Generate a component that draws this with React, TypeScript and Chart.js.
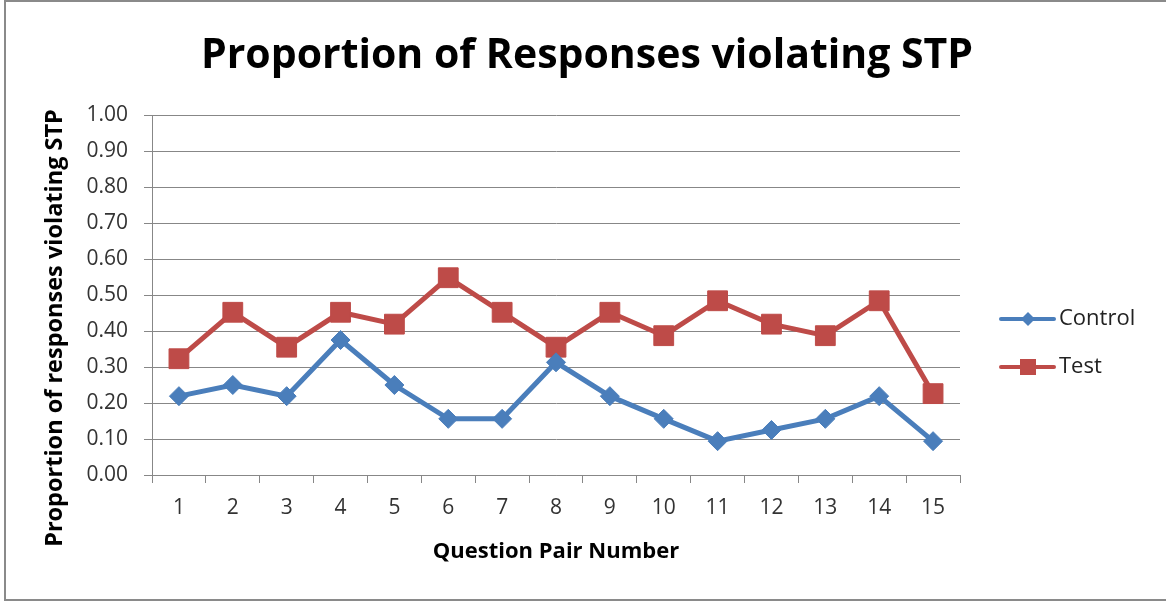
import React, { useEffect, useRef } from 'react';
import { Chart, registerables } from 'chart.js';

Chart.register(...registerables);

const categories = ['1', '2', '3', '4', '5', '6', '7', '8', '9', '10', '11', '12', '13', '14', '15'];
const controlValues = [0.219, 0.25, 0.219, 0.375, 0.25, 0.156, 0.156, 0.313, 0.219, 0.156, 0.094, 0.125, 0.156, 0.219, 0.094];
const testValues = [0.323, 0.452, 0.355, 0.452, 0.419, 0.548, 0.452, 0.355, 0.452, 0.387, 0.484, 0.419, 0.387, 0.484, 0.226];
const seriesNames = ['Control', 'Test'];
const chartTitle = 'Proportion of Responses violating STP';
const yAxisTitle = 'Proportion of responses violating STP';
const xAxisTitle = 'Question Pair Number';

const FONT = '"Open Sans", "Noto Sans", sans-serif';
const BLUE = '#4a7ebb';
const RED = '#be4b48';

const decorPlugin = {
  id: 'decor',
  beforeDraw(chart: any) {
    const ctx = chart.ctx;
    ctx.save();
    ctx.fillStyle = '#ffffff';
    ctx.fillRect(0, 0, chart.width, chart.height);
    ctx.strokeStyle = '#8a8a8a';
    ctx.lineWidth = 2;
    ctx.beginPath();
    ctx.moveTo(chart.width + 5, 1);
    ctx.lineTo(5, 1);
    ctx.lineTo(5, 600);
    ctx.lineTo(chart.width + 5, 600);
    ctx.stroke();
    ctx.restore();
  },
  afterDraw(chart: any) {
    const ctx = chart.ctx;
    ctx.save();
    // main title
    ctx.fillStyle = '#000000';
    ctx.font = `bold 41px ${FONT}`;
    ctx.textAlign = 'center';
    ctx.textBaseline = 'middle';
    ctx.fillText(chartTitle, 587, 56);
    // y-axis title
    ctx.save();
    ctx.translate(55, 328);
    ctx.rotate(-Math.PI / 2);
    ctx.font = `bold 23.5px ${FONT}`;
    ctx.fillText(yAxisTitle, 0, 0);
    ctx.restore();
    // legend
    const items = [
      { name: seriesNames[0], color: BLUE, y: 319, shape: 'diamond' },
      { name: seriesNames[1], color: RED, y: 367, shape: 'square' },
    ];
    items.forEach((it) => {
      ctx.strokeStyle = it.color;
      ctx.fillStyle = it.color;
      ctx.lineWidth = 4;
      ctx.lineCap = 'round';
      ctx.beginPath();
      ctx.moveTo(1001, it.y);
      ctx.lineTo(1054, it.y);
      ctx.stroke();
      const cx = 1028;
      ctx.beginPath();
      if (it.shape === 'diamond') {
        ctx.moveTo(cx, it.y - 7);
        ctx.lineTo(cx + 7, it.y);
        ctx.lineTo(cx, it.y + 7);
        ctx.lineTo(cx - 7, it.y);
        ctx.closePath();
      } else {
        ctx.rect(cx - 8, it.y - 8, 16, 16);
      }
      ctx.fill();
      ctx.fillStyle = '#222222';
      ctx.font = `22px ${FONT}`;
      ctx.textAlign = 'left';
      ctx.textBaseline = 'middle';
      ctx.fillText(it.name, 1059, it.y);
    });
    ctx.restore();
  },
};

export default function App() {
  const canvasRef = useRef<HTMLCanvasElement | null>(null);

  useEffect(() => {
    if (!canvasRef.current) return;
    const chart = new Chart(canvasRef.current, {
      type: 'line',
      data: {
        labels: categories,
        datasets: [
          {
            label: seriesNames[0],
            data: controlValues,
            borderColor: BLUE,
            backgroundColor: BLUE,
            borderWidth: 5,
            pointStyle: 'rectRot',
            pointRadius: 9.5,
            pointBorderWidth: 1,
            pointBackgroundColor: BLUE,
            pointBorderColor: BLUE,
            tension: 0,
          },
          {
            label: seriesNames[1],
            data: testValues,
            borderColor: RED,
            backgroundColor: RED,
            borderWidth: 5,
            pointStyle: 'rect',
            pointRadius: 14,
            pointBorderWidth: 1,
            pointBackgroundColor: RED,
            pointBorderColor: RED,
            tension: 0,
          },
        ],
      },
      options: {
        responsive: false,
        animation: false,
        devicePixelRatio: 1,
        layout: { padding: { left: 0, top: 115, right: 206, bottom: 0 } },
        plugins: {
          legend: { display: false },
          title: { display: false },
          tooltip: { enabled: false },
        },
        scales: {
          x: {
            type: 'category',
            offset: true,
            grid: {
              offset: true,
              drawOnChartArea: false,
              drawTicks: true,
              tickLength: 8,
              color: '#878787',
            },
            border: { display: true, color: '#878787', width: 1 },
            ticks: {
              color: '#333333',
              font: { family: FONT, size: 21 },
              padding: 12,
              maxRotation: 0,
            },
            title: {
              display: true,
              text: xAxisTitle,
              color: '#000000',
              font: { family: FONT, size: 22, weight: 'bold' },
              padding: { top: 0, bottom: 38 },
            },
            afterFit(scale: any) {
              scale.height = 128;
            },
          },
          y: {
            min: 0,
            max: 1,
            grid: {
              color: '#878787',
              tickLength: 8,
              drawTicks: true,
            },
            border: { display: true, color: '#878787', width: 1 },
            ticks: {
              stepSize: 0.1,
              color: '#333333',
              font: { family: FONT, size: 21 },
              padding: 16,
              callback: (v: any) => Number(v).toFixed(2),
            },
            afterFit(scale: any) {
              scale.width = 152;
            },
          },
        },
      },
      plugins: [decorPlugin],
    });
    return () => chart.destroy();
  }, []);

  return (
    <canvas
      ref={canvasRef}
      width={1166}
      height={603}
      style={{ position: 'fixed', left: 0, top: 0, width: 1166, height: 603 }}
    />
  );
}
